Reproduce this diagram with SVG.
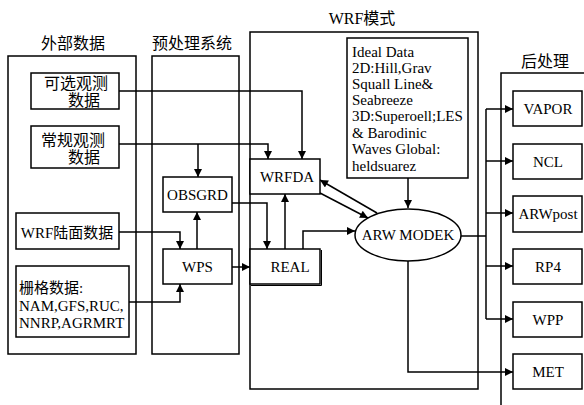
<svg xmlns="http://www.w3.org/2000/svg" width="584" height="405" viewBox="0 0 584 405">
<defs>
<marker id="arrB" viewBox="0 0 10 10" refX="10" refY="5" markerWidth="9" markerHeight="8" markerUnits="userSpaceOnUse" orient="auto">
<path d="M0,0 L10,5 L0,10 Z" fill="#000"/>
</marker>
</defs>
<style>
.box{fill:#fff;stroke:#000;stroke-width:1.5}
.cont{fill:none;stroke:#000;stroke-width:1.5}
text{font-family:'Liberation Serif','Times New Roman','DejaVu Serif','Noto Sans CJK SC',serif;font-size:15px;fill:#000}
.c{text-anchor:middle}
.cj{font-size:16px}
.ln{fill:none;stroke:#000;stroke-width:1.5;marker-end:url(#arrB)}
.pl{fill:none;stroke:#000;stroke-width:1.5}
</style>
<rect width="584" height="405" fill="#fff"/>

<g id="containers">
<rect class="cont" x="8" y="56" width="128" height="298"/>
<text class="c cj" x="73" y="49">外部数据</text>
<rect class="cont" x="152" y="56" width="87" height="298"/>
<text class="c cj" x="192" y="49">预处理系统</text>
<rect class="cont" x="250" y="32" width="228" height="357"/>
<text class="c cj" x="362" y="24">WRF模式</text>
<rect class="cont" x="501" y="73" width="120" height="360"/>
<text class="c cj" x="545" y="67">后处理</text>
</g>

<g id="connectors">
<path class="ln" d="M119,91 H302 V159"/>
<path class="ln" d="M119,144 H268 V159"/>
<path class="ln" d="M198,144 V177"/>
<path class="ln" d="M119,232 H180 V249"/>
<path class="ln" d="M129,302 H180 V284"/>
<path class="ln" d="M197,249 V212"/>
<path class="ln" d="M232,267 H250"/>
<path class="ln" d="M232,203 H267 V249"/>
<path class="ln" d="M285,249 V194"/>
<path class="ln" d="M303,249 V231 H355"/>
<path class="ln" d="M377,213 L320,180"/>
<path class="ln" d="M320,193 L368,218"/>
<path class="ln" d="M408,178 V208"/>
<path class="pl" d="M461,236 H486"/>
<path class="pl" d="M486,109 V319"/>
<path class="ln" d="M486,109 H513"/>
<path class="ln" d="M486,161 H513"/>
<path class="ln" d="M486,213 H513"/>
<path class="ln" d="M486,266 H513"/>
<path class="ln" d="M486,319 H513"/>
<path class="ln" d="M408,261 V372 H513"/>
</g>

<g id="kexuan">
<rect class="box" x="31" y="73" width="88" height="36"/>
<text class="c cj" x="76" y="89">可选观测</text>
<text class="c cj" x="84" y="106">数据</text>
</g>
<g id="changgui">
<rect class="box" x="31" y="126" width="88" height="42"/>
<text class="c cj" x="73" y="146">常规观测</text>
<text class="c cj" x="84" y="163">数据</text>
</g>
<g id="wrfluomian">
<rect class="box" x="16" y="213" width="103" height="36"/>
<text class="c" x="67" y="238">WRF陆面数据</text>
</g>
<g id="shange">
<rect class="box" x="16" y="266" width="113" height="71"/>
<text x="19" y="293">栅格数据:</text>
<text x="19" y="311">NAM,GFS,RUC,</text>
<text x="19" y="328">NNRP,AGRMRT</text>
</g>

<g id="obsgrd">
<rect class="box" x="163" y="177" width="69" height="35"/>
<text class="c" x="197.5" y="200">OBSGRD</text>
</g>
<g id="wps">
<rect class="box" x="163" y="249" width="69" height="35"/>
<text class="c" x="197.5" y="272">WPS</text>
</g>

<g id="wrfda">
<rect class="box" x="250" y="159" width="70" height="35"/>
<text class="c" x="287" y="182">WRFDA</text>
</g>
<g id="real">
<rect class="box" x="250" y="249" width="70" height="35"/>
<path d="M321.5,250 V285.5 H251" fill="none" stroke="#000" stroke-width="1"/>
<text class="c" x="290" y="272">REAL</text>
</g>
<g id="ideal">
<rect class="box" x="347" y="38" width="121" height="140"/>
<text x="352">
<tspan x="352" y="57">Ideal Data</tspan>
<tspan x="352" y="73">2D:Hill,Grav</tspan>
<tspan x="352" y="89">Squall Line&amp;</tspan>
<tspan x="352" y="105">Seabreeze</tspan>
<tspan x="352" y="121">3D:Superoell;LES</tspan>
<tspan x="352" y="138">&amp; Barodinic</tspan>
<tspan x="352" y="154">Waves Global:</tspan>
<tspan x="352" y="171">heldsuarez</tspan>
</text>
</g>
<g id="arw">
<ellipse class="box" cx="408" cy="235" rx="53" ry="26"/>
<text class="c" x="408" y="240">ARW MODEK</text>
</g>

<g id="vapor">
<rect class="box" x="513" y="91" width="69" height="35"/>
<text class="c" x="548" y="114">VAPOR</text>
</g>
<g id="ncl">
<rect class="box" x="513" y="144" width="69" height="35"/>
<text class="c" x="548" y="167">NCL</text>
</g>
<g id="arwpost">
<rect class="box" x="513" y="196" width="69" height="36"/>
<text class="c" x="548" y="219">ARWpost</text>
</g>
<g id="rp4">
<rect class="box" x="513" y="249" width="69" height="35"/>
<text class="c" x="548" y="272">RP4</text>
</g>
<g id="wpp">
<rect class="box" x="513" y="302" width="69" height="35"/>
<text class="c" x="548" y="325">WPP</text>
</g>
<g id="met">
<rect class="box" x="513" y="354" width="69" height="35"/>
<text class="c" x="548" y="377">MET</text>
</g>
</svg>
